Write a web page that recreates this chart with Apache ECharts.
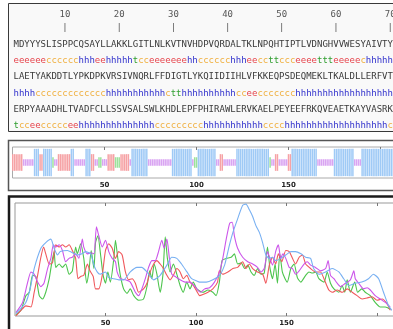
<!DOCTYPE html>
<html>
<head>
<meta charset="utf-8">
<script src="https://cdn.jsdelivr.net/npm/echarts@6/dist/echarts.min.js"></script>
<style>
  html, body { margin: 0; padding: 0; background: #fff; }
  #main { width: 393px; height: 329px; }
</style>
</head>
<body>
<div id="main"></div>
<script>
// sequence, 70 residues per row
var seqRows = [
  'MDYYYSLISPPCQSAYLLAKKLGITLNLKVTNVHDPVQRDALTKLNPQHTIPTLVDNGHVVWESYAIVTY',
  'LAETYAKDDTLYPKDPKVRSIVNQRLFFDIGTLYKQIIDIIHLVFKKEQPSDEQMEKLTKALDLLERFVT',
  'ERPYAAADHLTVADFCLLSSVSALSWLKHDLEPFPHIRAWLERVKAELPEYEEFRKQVEAETKAYVASRK'
];
// secondary structure per row, as runs [type, length]
var ssRuns = [
  [['e',6],['c',6],['h',3],['e',2],['h',5],['t',1],['c',2],['e',7],['h',2],['c',6],['h',3],['e',2],['c',2],['t',2],['c',3],['e',4],['t',3],['e',5],['c',1],['h',5]],
  [['h',4],['c',13],['h',11],['c',1],['t',2],['h',10],['c',2],['e',2],['c',7],['h',18]],
  [['t',1],['c',2],['e',2],['c',5],['e',2],['h',14],['c',9],['h',11],['c',4],['h',19],['c',1]]
];
var rulerTicks = [10, 20, 30, 40, 50, 60, 70];
var posTicks = [50, 100, 150, 200];
var posLabels = [50, 100, 150];

// profile lines [residue, value]
var blueLine = [[0.5,0.02],[6,0.12],[8.5,0.25],[10.6,0.42],[14.3,0.6],[17,0.65],[19.8,0.68],[21.6,0.6],[23.5,0.54],[25,0.57],[29,0.58],[31.7,0.56],[34.4,0.54],[37,0.55],[39,0.57],[41.8,0.55],[43.6,0.45],[45.4,0.39],[47,0.37],[50,0.39],[51.8,0.34],[54.6,0.33],[57.3,0.32],[60,0.32],[63.7,0.39],[67.4,0.43],[70,0.43],[72.9,0.39],[76.6,0.32],[80.2,0.36],[83.9,0.45],[86.6,0.52],[89.4,0.51],[92,0.46],[95,0.39],[97.6,0.33],[100.4,0.31],[102,0.3],[105.7,0.3],[109.3,0.32],[113,0.36],[115.8,0.45],[118.5,0.63],[120.4,0.74],[123,0.86],[125.8,0.98],[127.6,0.99],[129.5,0.94],[131.3,0.88],[133.1,0.8],[135,0.74],[136.8,0.65],[138.6,0.54],[140.5,0.51],[142.3,0.52],[144,0.49],[146.9,0.51],[149.6,0.54],[152.4,0.57],[155,0.57],[158,0.55],[160.6,0.52],[163.3,0.51],[165,0.42],[167.9,0.37],[171.6,0.39],[175.2,0.42],[178.9,0.39],[181.6,0.33],[184.4,0.27],[188,0.29],[191.6,0.3],[195.3,0.33],[198,0.37],[200.9,0.33],[203.6,0.21],[206.4,0.09],[208.2,0.05]];
var magentaLine = [[0.5,0.03],[4.2,0.12],[7,0.3],[8.8,0.39],[10.6,0.37],[12.5,0.3],[14.3,0.26],[16,0.29],[18,0.42],[19.8,0.51],[21.2,0.63],[22.5,0.61],[24.4,0.63],[26.2,0.58],[28,0.48],[29.9,0.51],[31.7,0.52],[33.5,0.55],[35.3,0.51],[37.2,0.68],[38,0.61],[40,0.55],[41.8,0.56],[43.6,0.55],[45,0.79],[46.3,0.71],[48.2,0.61],[50,0.67],[51.8,0.57],[53.7,0.51],[55.5,0.48],[56.4,0.39],[58.2,0.33],[61,0.32],[63.7,0.3],[66.5,0.21],[68.3,0.18],[70.1,0.24],[72,0.33],[73.8,0.43],[75.6,0.49],[77.5,0.49],[79.3,0.57],[81.1,0.67],[82.4,0.6],[83.9,0.68],[85.3,0.51],[86.6,0.37],[88.5,0.35],[91.2,0.32],[94,0.3],[96.7,0.3],[99.5,0.26],[101,0.23],[102.5,0.21],[104.8,0.24],[107.5,0.25],[110.2,0.3],[113,0.39],[114.8,0.51],[116.7,0.68],[118.6,0.82],[120,0.83],[121.2,0.71],[123,0.6],[125.8,0.52],[128.6,0.48],[131.3,0.46],[134,0.43],[135.9,0.39],[137.7,0.42],[139.5,0.57],[140.8,0.51],[142.3,0.45],[144,0.57],[145.5,0.63],[146.8,0.51],[148,0.55],[149.6,0.51],[151.5,0.43],[153.3,0.42],[155,0.37],[157,0.4],[159.7,0.46],[161.5,0.48],[163.3,0.45],[166,0.43],[168.8,0.4],[171.6,0.42],[173,0.49],[174.3,0.36],[176.2,0.33],[178,0.29],[179.9,0.26],[182.6,0.29],[185.3,0.32],[187.2,0.4],[188,0.33],[189.9,0.29],[192.6,0.24],[194.5,0.25],[196.3,0.23],[199,0.18],[201.8,0.15],[204.6,0.12],[207.3,0.08]];
var redLine = [[0.5,0],[3.3,0.05],[6,0.09],[8.8,0.08],[10.6,0.21],[12.5,0.36],[14.3,0.52],[15.8,0.61],[17,0.55],[18.9,0.46],[20.7,0.47],[22.5,0.63],[24.4,0.61],[26.2,0.63],[28,0.61],[29.9,0.63],[31.7,0.58],[33.5,0.51],[34.8,0.33],[36.3,0.35],[38,0.36],[40,0.46],[41.4,0.4],[43.2,0.35],[44.5,0.24],[46.3,0.24],[48.2,0.36],[50,0.58],[51.8,0.64],[53.7,0.6],[55.5,0.51],[57.3,0.57],[59.2,0.54],[61,0.39],[62.8,0.32],[64.7,0.33],[66.5,0.29],[68.3,0.21],[71,0.24],[72.9,0.29],[74.7,0.39],[76.6,0.46],[78.4,0.49],[80.2,0.46],[82,0.42],[83.9,0.36],[85.7,0.32],[87.5,0.36],[89.4,0.42],[91.2,0.39],[93,0.33],[94.9,0.36],[96.7,0.3],[98.5,0.27],[100.4,0.22],[102,0.18],[103.8,0.19],[106.6,0.21],[109.3,0.24],[111.9,0.3],[112.9,0.4],[114.7,0.37],[117.6,0.39],[120.4,0.42],[123,0.43],[125.8,0.48],[127.6,0.42],[129.5,0.46],[131.3,0.42],[134,0.39],[136.8,0.37],[138.6,0.29],[140.5,0.45],[142.3,0.52],[144,0.46],[145.5,0.55],[147.4,0.48],[149.6,0.58],[151.5,0.57],[153.3,0.51],[155,0.46],[157,0.52],[158.8,0.54],[160.6,0.46],[163.3,0.42],[166,0.39],[168.8,0.39],[170.7,0.33],[173.4,0.23],[175.3,0.21],[178,0.23],[180.8,0.21],[183.5,0.24],[186.3,0.21],[189,0.18],[191.8,0.15],[194.5,0.16],[197.3,0.17],[200,0.14],[202.8,0.15],[205.5,0.11],[207.4,0.05]];
var greenLine = [[0.5,0.01],[3.3,0.05],[6,0.18],[7.9,0.21],[9.7,0.36],[11.5,0.35],[13.4,0.18],[15.2,0.15],[17,0.21],[18.9,0.33],[20.1,0.45],[21.6,0.57],[22.5,0.43],[24.4,0.46],[26.2,0.43],[28,0.46],[29.9,0.37],[31.7,0.4],[33.5,0.61],[34.4,0.55],[36.3,0.64],[38,0.51],[39.6,0.29],[40.8,0.39],[42.1,0.58],[43.6,0.42],[44.5,0.65],[45.8,0.71],[47.3,0.54],[48.7,0.36],[50,0.29],[51.3,0.39],[52.7,0.3],[54.6,0.51],[55.5,0.67],[56.8,0.51],[58.2,0.36],[60,0.24],[61.9,0.2],[63.7,0.24],[65.6,0.18],[68.3,0.14],[71,0.15],[72.9,0.26],[74.4,0.4],[75.6,0.33],[76.9,0.46],[78.4,0.37],[80.2,0.21],[81.7,0.36],[83,0.7],[84.2,0.51],[85.7,0.39],[87.5,0.46],[89.4,0.37],[91.2,0.27],[93,0.21],[94.9,0.3],[96.7,0.24],[98.5,0.3],[100.4,0.24],[103.8,0.21],[106.6,0.23],[109.3,0.21],[111.1,0.18],[112.9,0.3],[114.4,0.49],[116.7,0.51],[119.4,0.52],[121.2,0.55],[123,0.46],[125,0.47],[126.8,0.42],[128.6,0.45],[130.4,0.39],[132.2,0.36],[134,0.42],[135.9,0.37],[137.7,0.38],[139.5,0.61],[140.8,0.43],[142.3,0.33],[143.7,0.46],[145,0.29],[146.3,0.55],[147.7,0.39],[149.2,0.33],[150.4,0.3],[152.4,0.42],[154.2,0.46],[156,0.34],[157.9,0.3],[160.6,0.36],[162.4,0.39],[164.3,0.38],[166.1,0.39],[167.9,0.33],[170.7,0.3],[172.5,0.39],[174.3,0.29],[176.2,0.24],[178.9,0.21],[180.7,0.27],[182.2,0.21],[183.5,0.32],[185.3,0.21],[187.7,0.3],[189.3,0.21],[191.6,0.24],[193.5,0.21],[196.3,0.18],[199,0.12],[201.8,0.08],[204.6,0.08],[207.3,0.06]];

var letterColor = { e: '#e6434b', c: '#f0b040', h: '#3232cc', t: '#2f9e2f' };
var trackColor = { h: '#9fcaf6', e: '#f6a2a5', t: '#9be29b', c: '#d9a4f2' };
var trackHalf = { h: 0.88, e: 0.54, t: 0.34, c: 0.21 };
var monoFont = '9px "DejaVu Sans Mono", monospace';
var charW = 5.42;

// expand runs into one string per row
var ssRows = ssRuns.map(function (runs) {
  var s = '';
  runs.forEach(function (r) { for (var i = 0; i < r[1]; i++) s += r[0]; });
  return s;
});
var ssAll = ssRows.join('');

// letters for top panel
var letterPos = [], letterChar = [], letterFill = [];
for (var k = 0; k < seqRows.length; k++) {
  for (var i = 0; i < seqRows[k].length; i++) {
    letterPos.push([i + 1, 2 * k + 0.5]);
    letterChar.push(seqRows[k][i]);
    letterFill.push('#3a3a3a');
    letterPos.push([i + 1, 2 * k + 1.5]);
    letterChar.push(ssRows[k][i]);
    letterFill.push(letterColor[ssRows[k][i]]);
  }
}

function trackSeries(type) {
  var data = [];
  for (var i = 0; i < ssAll.length; i++) if (ssAll[i] === type) data.push([i, 0]);
  var half = trackHalf[type];
  return {
    type: 'custom', xAxisIndex: 1, yAxisIndex: 1, clip: true,
    data: data,
    encode: { x: 0, y: 1 },
    renderItem: function (params, api) {
      var x = api.value(0);
      var p0 = api.coord([x - 0.4, half]);
      var p1 = api.coord([x + 0.4, -half]);
      return {
        type: 'rect',
        shape: { x: p0[0], y: p0[1], width: p1[0] - p0[0], height: p1[1] - p0[1] },
        style: { fill: trackColor[type] }
      };
    }
  };
}

function lineSeries(data, color) {
  return {
    type: 'line', xAxisIndex: 3, yAxisIndex: 2,
    data: data, showSymbol: false, smooth: 0.2,
    lineStyle: { color: color, width: 1.1 }, itemStyle: { color: color }
  };
}

var posLabel = { customValues: posLabels, fontSize: 7, fontWeight: 'bold', color: '#222', margin: 4, fontFamily: 'DejaVu Sans' };
var posTick = { show: true, inside: true, length: 3, customValues: posTicks, lineStyle: { color: '#777' } };

var myChart = echarts.init(document.getElementById('main'));
var option = {
  animation: false,
  graphic: [
    { type: 'rect', z: -1, shape: { x: 8.5, y: 3.5, width: 420, height: 128 }, style: { fill: '#f9f9f9', stroke: '#3a3a3a', lineWidth: 1 } },
    { type: 'rect', z: -1, shape: { x: 8.5, y: 140.5, width: 420, height: 50 }, style: { fill: '#fff', stroke: '#555', lineWidth: 1.5 } },
    { type: 'rect', z: -1, shape: { x: 9, y: 196.5, width: 420, height: 200 }, style: { fill: '#fff', stroke: '#1a1a1a', lineWidth: 2.5 } }
  ],
  grid: [
    { left: 13.5, top: 36, width: 75 * charW, height: 98, outerBoundsMode: 'none' },
    { left: 12.5, top: 147, width: 215 * 1.84, height: 31, outerBoundsMode: 'none', show: true, borderColor: '#aaa', borderWidth: 1, backgroundColor: 'transparent' },
    { left: 15, top: 203, width: 215 * 1.81, height: 113, outerBoundsMode: 'none', show: true, borderColor: '#999', borderWidth: 1, backgroundColor: 'transparent' }
  ],
  xAxis: [
    {
      gridIndex: 0, type: 'value', min: 0.5, max: 75.5, position: 'top',
      axisLine: { show: false }, axisTick: { show: false }, splitLine: { show: false },
      axisLabel: {
        customValues: rulerTicks, formatter: '{value}\n|', margin: 2,
        fontFamily: '"DejaVu Sans Mono", monospace', fontSize: 9, lineHeight: 13, color: '#555'
      }
    },
    {
      gridIndex: 1, type: 'value', min: 0, max: 215, position: 'bottom',
      axisLine: { show: false }, splitLine: { show: false },
      axisTick: posTick, axisLabel: posLabel
    },
    {
      gridIndex: 1, type: 'value', min: 0, max: 215, position: 'top',
      axisLine: { show: false }, splitLine: { show: false },
      axisTick: posTick, axisLabel: { show: false }
    },
    {
      gridIndex: 2, type: 'value', min: 0, max: 215, position: 'bottom',
      axisLine: { show: false }, splitLine: { show: false },
      axisTick: posTick, axisLabel: posLabel
    },
    {
      gridIndex: 2, type: 'value', min: 0, max: 215, position: 'top',
      axisLine: { show: false }, splitLine: { show: false },
      axisTick: posTick, axisLabel: { show: false }
    }
  ],
  yAxis: [
    { gridIndex: 0, type: 'value', min: 0, max: 6, inverse: true, show: false },
    { gridIndex: 1, type: 'value', min: -1, max: 1, show: false },
    { gridIndex: 2, type: 'value', min: 0, max: 1, show: false }
  ],
  series: [
    {
      type: 'custom', xAxisIndex: 0, yAxisIndex: 0,
      data: letterPos, encode: { x: 0, y: 1 },
      renderItem: function (params, api) {
        var p = api.coord([api.value(0), api.value(1)]);
        return {
          type: 'text', x: p[0], y: p[1],
          style: {
            text: letterChar[params.dataIndex], fill: letterFill[params.dataIndex],
            font: monoFont, align: 'center', verticalAlign: 'middle'
          }
        };
      }
    },
    trackSeries('h'), trackSeries('e'), trackSeries('t'), trackSeries('c'),
    lineSeries(greenLine, '#4cc44c'),
    lineSeries(redLine, '#f0585c'),
    lineSeries(magentaLine, '#cc55ea'),
    lineSeries(blueLine, '#78b0f2')
  ]
};
myChart.setOption(option, true);
</script>
</body>
</html>
